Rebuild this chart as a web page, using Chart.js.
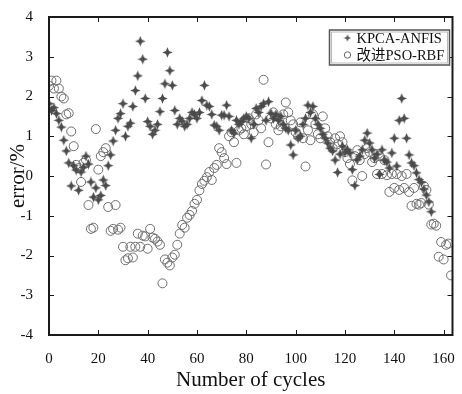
<!DOCTYPE html>
<html>
<head>
<meta charset="utf-8">
<script src="https://cdn.jsdelivr.net/npm/chart.js@4"></script>
<style>
  html, body { margin: 0; padding: 0; background: #fff; }
  #chart { display: block; }
</style>
</head>
<body>
<canvas id="chart" width="462" height="394"></canvas>
<script>
// error values per cycle (index = cycle number)
const kpcaAnfis = [
  1.82, 1.65, 1.72, 1.57, 1.40, 1.23, 0.90, 0.63, 0.33, -0.25,
  0.26, 0.15, -0.36, 0.10, 0.22, 0.50, 0.30, -0.15, -0.53, -0.30,
  -0.60, -0.49, -0.10, -0.24, 0.26, 0.53, 0.88, 1.15, 1.45, 1.57,
  1.82, 1.00, 1.25, 1.33, 1.75, 2.15, 2.52, 3.39, 2.94, 1.95,
  1.37, 1.25, 1.05, 1.15, 1.30, 1.62, 1.95, 2.32, 3.11, 2.65,
  2.28, 1.65, 1.30, 1.45, 1.38, 1.25, 1.30, 1.45, 1.60, 1.55,
  1.45, 1.60, 1.90, 2.28, 1.78, 1.75, 1.55, 1.28, 1.25, 1.15,
  1.53, 1.53, 1.78, 1.50, 1.15, 1.08, 1.40, 1.30, 1.37, 1.45,
  1.50, 1.45, 0.95, 1.30, 1.70, 1.60, 1.75, 1.82, 1.40, 1.87,
  1.58, 1.45, 1.55, 1.40, 1.50, 1.30, 1.20, 1.15, 0.78, 0.53,
  1.15, 0.95, 1.00, 1.30, 1.45, 1.78, 1.60, 1.75, 1.45, 1.30,
  1.20, 1.05, 0.95, 0.83, 0.70, 0.63, 0.40, 0.09, 0.55, 0.75,
  0.60, 0.66, 0.58, 0.16, -0.24, 0.41, 0.50, 0.66, 0.90, 1.08,
  0.83, 0.66, 0.45, 0.55, 0.04, 0.66, 0.40, 0.35, 0.20, 0.58,
  0.95, 0.25, 1.40, 1.95, 1.45, 0.95, 0.53, 0.33, 0.26, 0.08,
  -0.09, -0.16, -0.33, -0.48, -0.65, -0.90
];

const psoRbf = [
  2.27, 2.40, 2.20, 2.40, 2.20, 2.00, 1.95, 1.55, 1.58, 1.12,
  0.75, 0.28, 0.20, -0.15, 0.33, 0.40, -0.73, -1.33, -1.30, 1.18,
  0.16, 0.50, 0.60, 0.70, -0.78, -1.38, -1.33, -0.73, -1.35, -1.30,
  -1.78, -2.12, -2.07, -1.78, -2.05, -1.78, -1.45, -1.78, -1.50, -1.52,
  -1.83, -1.33, -1.55, -1.58, -1.65, -1.73, -2.70, -2.10, -2.18, -2.25,
  -2.05, -1.98, -1.73, -1.45, -1.23, -1.30, -1.05, -0.98, -0.88, -0.70,
  -0.60, -0.36, -0.20, -0.12, -0.03, 0.10, -0.10, 0.20, 0.28, 0.70,
  0.60, 0.45, 0.30, 1.00, 1.10, 0.85, 0.33, 1.15, 1.20, 1.05,
  1.25, 1.45, 1.30, 1.10, 1.55, 1.40, 1.20, 2.42, 0.29, 0.85,
  1.45, 1.60, 1.30, 1.15, 1.25, 1.55, 1.85, 1.60, 1.40, 1.30,
  1.10, 1.00, 1.35, 0.95, 0.24, 1.15, 0.90, 1.55, 1.30, 1.05,
  0.95, 1.50, 1.20, 1.00, 0.85, 0.70, 0.95, 0.80, 1.00, 0.85,
  0.60, 0.45, 0.30, -0.11, 0.50, 0.65, 0.40, 0.00, 0.55, 0.70,
  0.60, 0.35, 0.45, 0.05, 0.50, 0.05, 0.40, 0.02, -0.40, 0.05,
  -0.30, 0.05, -0.35, 0.00, -0.30, 0.05, -0.40, -0.75, -0.30, -0.70,
  -0.72, -0.68, -0.25, -0.35, -0.72, -1.22, -1.20, -1.25, -2.03, -1.66,
  -2.10, -1.73, -1.70, -2.50
];

const seriesNames = ['KPCA-ANFIS', '改进PSO-RBF'];
const xTicks = [0, 20, 40, 60, 80, 100, 120, 140, 160];
const yTicks = [-4, -3, -2, -1, 0, 1, 2, 3, 4];

const serif = '"Liberation Serif", "Times New Roman", "Noto Sans CJK SC", serif';

// four-pointed star marker
function makeStar(size, color) {
  const c = document.createElement('canvas');
  c.width = size;
  c.height = size;
  const g = c.getContext('2d');
  const m = size / 2;
  const r = size / 2 - 0.3;
  const ri = size * 0.14;
  g.fillStyle = color;
  g.beginPath();
  g.moveTo(m, m - r);
  g.lineTo(m + ri, m - ri);
  g.lineTo(m + r, m);
  g.lineTo(m + ri, m + ri);
  g.lineTo(m, m + r);
  g.lineTo(m - ri, m + ri);
  g.lineTo(m - r, m);
  g.lineTo(m - ri, m - ri);
  g.closePath();
  g.fill();
  return c;
}

const starMark = makeStar(11, '#4a4a4a');
const starSmall = makeStar(8, '#555');

const toPoints = arr => arr.map((v, i) => ({ x: i, y: v }));

const frame = {
  id: 'frame',
  afterDraw(chart) {
    const { ctx, chartArea: a, scales } = chart;
    const t = 5;
    ctx.save();
    ctx.strokeStyle = '#1a1a1a';
    ctx.lineWidth = 1;
    ctx.beginPath();
    xTicks.forEach(v => {
      const px = Math.round(scales.x.getPixelForValue(v)) + 0.5;
      ctx.moveTo(px, a.bottom); ctx.lineTo(px, a.bottom - t);
      ctx.moveTo(px, a.top); ctx.lineTo(px, a.top + t);
    });
    yTicks.forEach(v => {
      const py = Math.round(scales.y.getPixelForValue(v)) + 0.5;
      ctx.moveTo(a.left, py); ctx.lineTo(a.left + t, py);
      ctx.moveTo(a.right, py); ctx.lineTo(a.right - t, py);
    });
    ctx.stroke();
    ctx.lineWidth = 2;
    ctx.strokeRect(a.left, a.top, a.right - a.left, a.bottom - a.top);

    // legend box
    const bx = a.right - 123, by = a.top + 13, bw = 120, bh = 35;
    ctx.fillStyle = '#fff';
    ctx.fillRect(bx, by, bw, bh);
    ctx.lineWidth = 1.5;
    ctx.strokeStyle = '#555';
    ctx.strokeRect(bx, by, bw, bh);
    ctx.lineWidth = 0.8;
    ctx.strokeStyle = '#aaa';
    ctx.strokeRect(bx + 2, by + 2, bw - 4, bh - 4);

    ctx.drawImage(starSmall, bx + 14, by + 4);
    ctx.beginPath();
    ctx.strokeStyle = '#666';
    ctx.lineWidth = 1;
    ctx.arc(bx + 18, by + 25, 3.2, 0, Math.PI * 2);
    ctx.stroke();

    ctx.fillStyle = '#111';
    ctx.font = '14.5px ' + serif;
    ctx.textBaseline = 'middle';
    ctx.textAlign = 'left';
    ctx.fillText(seriesNames[0], bx + 27, by + 9);
    ctx.fillText(seriesNames[1], bx + 27, by + 26);
    ctx.restore();
  }
};

new Chart(document.getElementById('chart'), {
  type: 'scatter',
  data: {
    datasets: [
      {
        label: seriesNames[0],
        data: toPoints(kpcaAnfis),
        pointStyle: starMark,
        pointRadius: 5,
        pointHoverRadius: 5
      },
      {
        label: seriesNames[1],
        data: toPoints(psoRbf),
        pointStyle: 'circle',
        pointRadius: 4.5,
        pointHoverRadius: 4.5,
        borderColor: '#6e6e6e',
        borderWidth: 1,
        backgroundColor: 'rgba(0,0,0,0)'
      }
    ]
  },
  options: {
    responsive: false,
    animation: false,
    devicePixelRatio: 1,
    layout: { padding: { left: 0, right: 4, top: 12, bottom: 0 } },
    plugins: {
      legend: { display: false },
      tooltip: { enabled: false }
    },
    scales: {
      x: {
        type: 'linear',
        min: 0,
        max: 163.6,
        afterBuildTicks: scale => { scale.ticks = xTicks.map(v => ({ value: v })); },
        afterFit: scale => { scale.height = 59; },
        grid: { display: false },
        border: { display: false },
        ticks: { padding: 7, color: '#111', font: { family: serif, size: 15 }, maxRotation: 0 },
        title: {
          display: true,
          text: 'Number of cycles',
          color: '#111',
          font: { family: serif, size: 21 },
          padding: { top: 0, bottom: 1 }
        }
      },
      y: {
        min: -4,
        max: 4,
        afterBuildTicks: scale => { scale.ticks = yTicks.map(v => ({ value: v })); },
        afterFit: scale => { scale.width = 49; },
        grid: { display: false },
        border: { display: false },
        ticks: { padding: 8, color: '#111', font: { family: serif, size: 15 } },
        title: {
          display: true,
          text: 'error/%',
          color: '#111',
          font: { family: serif, size: 21 },
          padding: { top: 6, bottom: 0 }
        }
      }
    }
  },
  plugins: [frame]
});
</script>
</body>
</html>
